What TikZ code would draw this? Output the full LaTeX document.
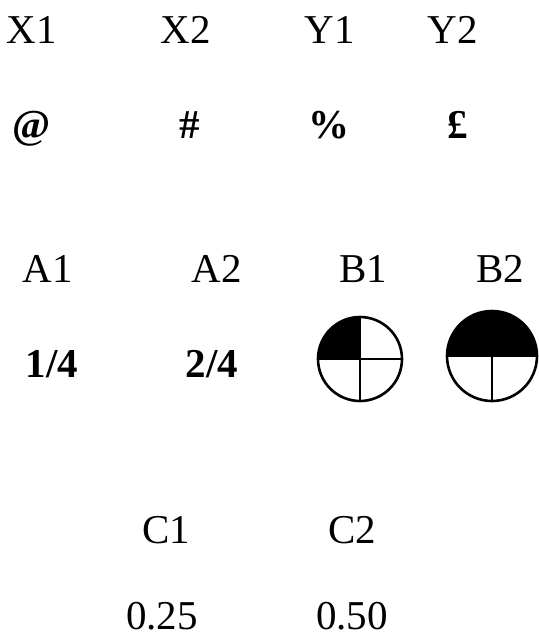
\documentclass[tikz,border=0pt]{standalone}
\usepackage{fontspec}
\setmainfont{Liberation Serif}
\begin{document}
\begin{tikzpicture}[x=1pt,y=-1pt,
  lbl/.style={anchor=base,inner sep=0pt,font=\fontsize{41}{48}\selectfont},
  blbl/.style={lbl,font=\fontsize{41}{48}\selectfont\bfseries},
  rim/.style={line width=2.6pt},
  divider/.style={line width=2pt}]
\useasboundingbox (0,0) rectangle (539,641);
% row 1
\node[lbl] (x1) at (32,43) {X1};
\node[lbl] (x2) at (186,43) {X2};
\node[lbl] (y1) at (330,43) {Y1};
\node[lbl] (y2) at (453,43) {Y2};
% row 2
\node[blbl] (s1) at (32,138) {@};
\node[blbl] (s2) at (190,138) {\#};
\node[blbl] (s3) at (329,138) {\%};
\node[blbl] (s4) at (458,138) {£};
% row 3
\node[lbl] (a1) at (48,282) {A1};
\node[lbl] (a2) at (217,282) {A2};
\node[lbl] (b1) at (363,282) {B1};
\node[lbl] (b2) at (500,282) {B2};
% row 4
\node[blbl] (f1) at (52,377) {1/4};
\node[blbl] (f2) at (212,377) {2/4};
% B1 circle: top-left quarter filled
\fill (360,359) -- (318,359) arc[start angle=180,end angle=270,radius=42] -- cycle;
\draw[divider] (318,359) -- (402,359);
\draw[divider] (360,317) -- (360,401);
\draw[rim] (360,359) circle[radius=42];
% B2 circle: top half filled
\fill (447,356) arc[start angle=180,end angle=360,radius=45] -- cycle;
\draw[divider] (447,356) -- (537,356);
\draw[divider] (492,356) -- (492,401);
\draw[rim] (492,356) circle[radius=45];
% row 5
\node[lbl] (c1) at (166,543) {C1};
\node[lbl] (c2) at (352,543) {C2};
% row 6
\node[lbl] (v1) at (162,629) {0.25};
\node[lbl] (v2) at (352,629) {0.50};
\end{tikzpicture}
\end{document}
